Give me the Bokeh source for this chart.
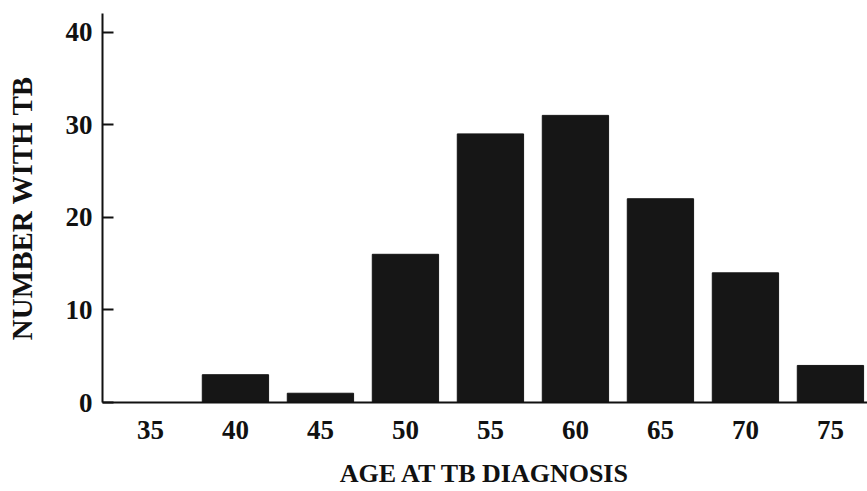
from bokeh.plotting import figure
from bokeh.models import FixedTicker, Range1d
from bokeh.embed import file_html
from bokeh.resources import INLINE

ages = [35, 40, 45, 50, 55, 60, 65, 70, 75]
counts = [0, 3, 1, 16, 29, 31, 22, 14, 4]
y_ticks = [0, 10, 20, 30, 40]
x_label = "AGE AT TB DIAGNOSIS"
y_label = "NUMBER WITH TB"

p = figure(width=867, height=491, output_backend="svg", toolbar_location=None,
           x_range=Range1d(32.18, 77.18), y_range=Range1d(0, 42),
           min_border_left=102, min_border_right=0, min_border_top=13,
           min_border_bottom=89)
p.vbar(x=ages, top=counts, width=3.9, bottom=0, color="#161616")

p.grid.visible = False
p.outline_line_color = None
p.background_fill_color = "white"

font = "Liberation Serif"
for ax in (p.xaxis[0], p.yaxis[0]):
    ax.major_label_text_font = font
    ax.major_label_text_font_style = "bold"
    ax.major_label_text_font_size = "27px"
    ax.major_label_text_color = "#111111"
    ax.axis_label_text_font = font
    ax.axis_label_text_font_style = "bold"
    ax.axis_label_text_color = "#111111"
    ax.axis_line_width = 2
    ax.axis_line_color = "#111111"
    ax.minor_tick_line_color = None

p.xaxis.ticker = FixedTicker(ticks=ages)
p.xaxis.major_tick_line_color = None
p.xaxis.major_tick_in = 0
p.xaxis.major_tick_out = 0
p.xaxis.major_label_standoff = 18
p.xaxis.axis_label = x_label
p.xaxis.axis_label_text_font_size = "26px"
p.xaxis.axis_label_standoff = 17

p.yaxis.ticker = FixedTicker(ticks=y_ticks)
p.yaxis.major_tick_in = 11
p.yaxis.major_tick_out = 0
p.yaxis.major_tick_line_width = 2
p.yaxis.major_tick_line_color = "#111111"
p.yaxis.major_label_standoff = 10
p.yaxis.axis_label = y_label
p.yaxis.axis_label_text_font_size = "29px"
p.yaxis.axis_label_standoff = 25

open("out.html", "w").write(file_html(p, INLINE))
